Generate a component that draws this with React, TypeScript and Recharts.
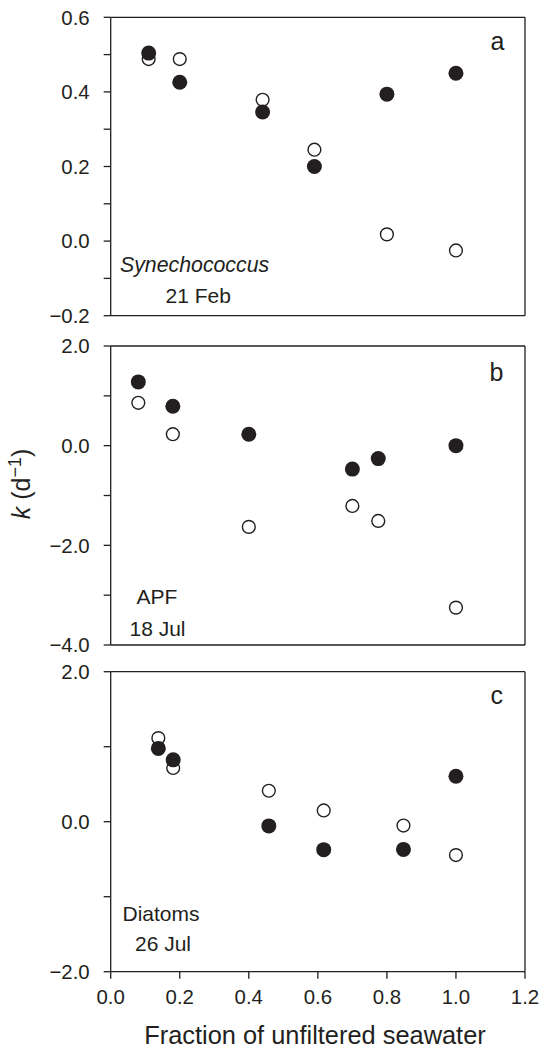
import React from 'react';
import { ScatterChart, Scatter, XAxis, YAxis, ReferenceLine } from 'recharts';

const INK = '#231f20';
const FONT = '"Liberation Sans", Arial, Helvetica, sans-serif';

const xTicks = [0, 0.2, 0.4, 0.6, 0.8, 1.0, 1.2];

// Panel a — Synechococcus, 21 Feb
const fracA = [0.11, 0.2, 0.44, 0.59, 0.8, 1.0];
const filledA = [0.504, 0.426, 0.346, 0.2, 0.394, 0.45];
const openA = [0.488, 0.488, 0.379, 0.245, 0.018, -0.025];
const yTicksA = [-0.2, -0.1, 0, 0.1, 0.2, 0.3, 0.4, 0.5, 0.6];

// Panel b — APF, 18 Jul
const fracB = [0.08, 0.18, 0.4, 0.7, 0.775, 1.0];
const filledB = [1.28, 0.79, 0.23, -0.47, -0.26, 0.0];
const openB = [0.86, 0.23, -1.63, -1.21, -1.51, -3.25];
const yTicksB = [-4, -3, -2, -1, 0, 1, 2];

// Panel c — Diatoms, 26 Jul
const fracC = [0.138, 0.181, 0.458, 0.617, 0.848, 1.0];
const filledC = [0.977, 0.825, -0.056, -0.373, -0.369, 0.606];
const openC = [1.115, 0.717, 0.413, 0.15, -0.051, -0.445];
const yTicksC = [-2, -1, 0, 1, 2];

const toPoints = (xs: number[], ys: number[]) => xs.map((x, i) => ({ x, y: ys[i] }));

const FilledDot = (p: any) => <circle cx={p.cx} cy={p.cy} r={7.5} fill={INK} />;
const OpenDot = (p: any) => (
  <circle cx={p.cx} cy={p.cy} r={6.4} fill="#ffffff" stroke={INK} strokeWidth={1.4} />
);

const fmtY = (v: number, i: number) =>
  i % 2 === 0 ? (v < 0 ? '\u2212' : '') + Math.abs(v).toFixed(1) : '';

type PanelProps = {
  top: number;
  height: number;
  marginTop: number;
  xAxisHeight: number;
  yTicks: number[];
  frac: number[];
  filled: number[];
  open: number[];
  showX: boolean;
};

function Panel({ top, height, marginTop, xAxisHeight, yTicks, frac, filled, open, showX }: PanelProps) {
  const yDomain: [number, number] = [yTicks[0], yTicks[yTicks.length - 1]];
  const line = { stroke: INK, strokeWidth: 1.3 };
  return (
    <div style={{ position: 'absolute', left: 0, top, width: 541, height }}>
      <ScatterChart width={541} height={height} margin={{ top: marginTop, right: 16, bottom: 0, left: 0 }}>
        <XAxis
          type="number"
          dataKey="x"
          domain={[0, 1.2]}
          ticks={xTicks}
          interval={0}
          height={xAxisHeight}
          tickSize={7}
          tickMargin={11}
          axisLine={line}
          tickLine={line}
          tick={showX ? { fill: INK, fontSize: 20.4 } : false}
          tickFormatter={(v: number) => v.toFixed(1)}
        />
        <YAxis
          type="number"
          dataKey="y"
          domain={yDomain}
          ticks={yTicks}
          interval={0}
          width={110.7}
          tickSize={7}
          tickMargin={14}
          axisLine={line}
          tickLine={line}
          tick={{ fill: INK, fontSize: 20.4 }}
          tickFormatter={fmtY}
        />
        <ReferenceLine y={yDomain[1]} stroke={INK} strokeWidth={1.3} />
        <ReferenceLine x={1.2} stroke={INK} strokeWidth={1.3} />
        <Scatter data={toPoints(frac, open)} shape={OpenDot} isAnimationActive={false} />
        <Scatter data={toPoints(frac, filled)} shape={FilledDot} isAnimationActive={false} />
      </ScatterChart>
    </div>
  );
}

export default function App() {
  return (
    <div
      style={{
        position: 'absolute',
        left: 0,
        top: 0,
        width: 541,
        height: 1048,
        background: '#ffffff',
        fontFamily: FONT,
        overflow: 'hidden',
      }}
    >
      <Panel top={0} height={330} marginTop={17.3} xAxisHeight={14.3} yTicks={yTicksA} frac={fracA} filled={filledA} open={openA} showX={false} />
      <Panel top={330} height={330} marginTop={16} xAxisHeight={15} yTicks={yTicksB} frac={fracB} filled={filledB} open={openB} showX={false} />
      <Panel top={660} height={388} marginTop={11.7} xAxisHeight={76.3} yTicks={yTicksC} frac={fracC} filled={filledC} open={openC} showX={true} />
      <svg
        width={541}
        height={1048}
        style={{ position: 'absolute', left: 0, top: 0, pointerEvents: 'none', fontFamily: FONT }}
      >
        <g fill={INK}>
          <text x={490.5} y={50} fontSize={25}>a</text>
          <text x={489.5} y={380.7} fontSize={25}>b</text>
          <text x={490.5} y={704} fontSize={25}>c</text>

          <text x={120} y={271.7} fontSize={21.3} fontStyle="italic">Synechococcus</text>
          <text x={165.5} y={303.3} fontSize={21}>21 Feb</text>

          <text x={136.5} y={603.5} fontSize={21}>APF</text>
          <text x={129.5} y={635.8} fontSize={21}>18 Jul</text>

          <text x={122.5} y={920.8} fontSize={21}>Diatoms</text>
          <text x={135} y={951.3} fontSize={21}>26 Jul</text>

          <text x={315} y={1044} fontSize={25.4} textAnchor="middle">Fraction of unfiltered seawater</text>

          <text transform="translate(29.5,484) rotate(-90)" x={0} y={0} fontSize={25} textAnchor="middle">
            <tspan fontStyle="italic">k</tspan>
            <tspan> (d</tspan>
            <tspan fontSize={18} dy={-9}>{'\u2212'}1</tspan>
            <tspan dy={9}>)</tspan>
          </text>
        </g>
      </svg>
    </div>
  );
}
